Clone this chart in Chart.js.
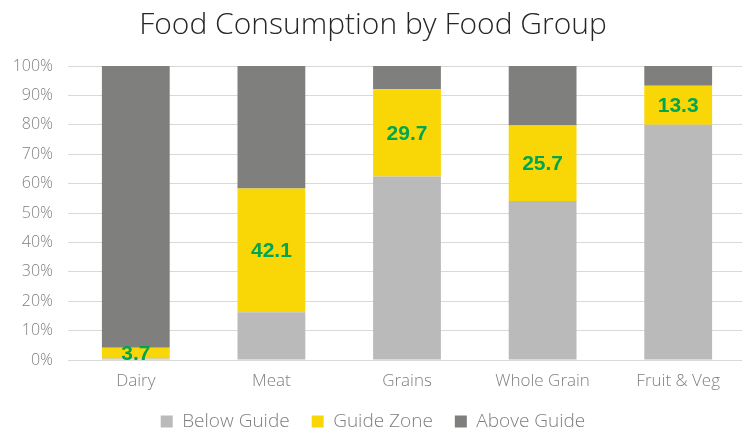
<!DOCTYPE html>
<html>
<head>
<meta charset="utf-8">
<script src="https://cdn.jsdelivr.net/npm/chart.js@4"></script>
<style>
  html, body { margin: 0; padding: 0; background: #fff; overflow: hidden; }
  #wrap { width: 746px; height: 441px; position: relative; }
</style>
</head>
<body>
<div id="wrap"><canvas id="foodChart"></canvas></div>
<script>
const foodGroups = ["Dairy", "Meat", "Grains", "Whole Grain", "Fruit & Veg"];
const belowGuide = [0.5, 16.2, 62.4, 54.1, 80.0];
const guideZone  = [3.7, 42.1, 29.7, 25.7, 13.3];
const aboveGuide = [95.8, 41.7, 7.9, 20.2, 6.7];

const FONT = "'Open Sans', 'Liberation Sans', sans-serif";

// writes the guide-zone value in the middle of each yellow segment
const guideLabels = {
    id: 'guideLabels',
    afterDatasetsDraw(chart) {
        const ctx = chart.ctx;
        const meta = chart.getDatasetMeta(1);
        ctx.save();
        ctx.font = "bold 21px 'Liberation Sans', Arial, sans-serif";
        ctx.fillStyle = '#00a651';
        ctx.textAlign = 'center';
        ctx.textBaseline = 'middle';
        meta.data.forEach((bar, i) => {
            const p = bar.getCenterPoint();
            ctx.fillText(guideZone[i].toFixed(1), p.x, p.y + 1);
        });
        ctx.restore();
    }
};

new Chart(document.getElementById("foodChart"), {
    type: 'bar',
    data: {
        labels: foodGroups,
        datasets: [
            { label: 'Below Guide', data: belowGuide, backgroundColor: '#bababa' },
            { label: 'Guide Zone', data: guideZone, backgroundColor: '#f9d606' },
            { label: 'Above Guide', data: aboveGuide, backgroundColor: '#7f7f7d' }
        ]
    },
    options: {
        responsive: true,
        maintainAspectRatio: false,
        animation: false,
        datasets: { bar: { categoryPercentage: 1, barPercentage: 0.5 } },
        layout: { padding: 0 },
        plugins: {
            title: {
                display: true,
                text: 'Food Consumption by Food Group',
                color: '#262626',
                font: { family: FONT, size: 30, weight: 300 },
                padding: { top: 7, bottom: 23 }
            },
            legend: {
                position: 'bottom',
                labels: {
                    color: '#7f7f7f',
                    font: { family: FONT, size: 19, weight: 300 },
                    boxWidth: 12,
                    boxHeight: 12,
                    padding: 22
                }
            },
            tooltip: { enabled: false }
        },
        scales: {
            x: {
                stacked: true,
                afterFit: s => { s.height = 30; },
                grid: { display: false, drawTicks: false },
                border: { color: '#d9d9d9' },
                ticks: { color: '#7f7f7f', font: { family: FONT, size: 17, weight: 300 }, padding: 11 }
            },
            y: {
                stacked: true,
                min: 0,
                max: 100,
                afterFit: s => { s.width = 68; },
                border: { display: false },
                grid: { color: '#d9d9d9', drawTicks: false },
                ticks: {
                    stepSize: 10,
                    color: '#7f7f7f',
                    font: { family: FONT, size: 16, weight: 300 },
                    padding: 15,
                    callback: v => v + '%'
                }
            }
        }
    },
    plugins: [guideLabels]
});
</script>
</body>
</html>
